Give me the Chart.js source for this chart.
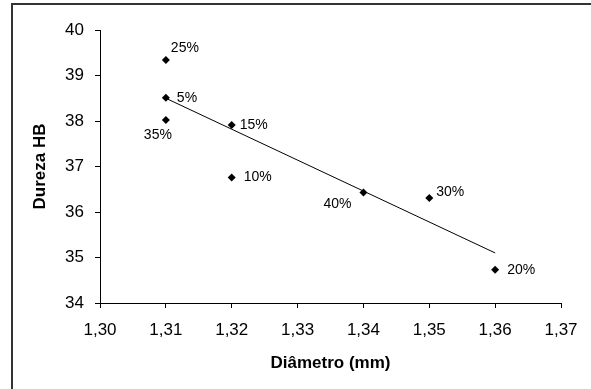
<!DOCTYPE html>
<html>
<head>
<meta charset="utf-8">
<script src="https://cdn.jsdelivr.net/npm/chart.js@4.4.1/dist/chart.umd.min.js"></script>
<style>
    html, body { margin: 0; padding: 0; background: #fff; }
    #wrap { width: 591px; height: 389px; }
</style>
</head>
<body>
<div id="wrap"><canvas id="chart" width="591" height="389"></canvas></div>
<script>
//dados
const diametro = [1.31, 1.31, 1.31, 1.32, 1.32, 1.34, 1.35, 1.36];
const dureza = [39.34, 38.51, 38.02, 37.91, 36.76, 36.43, 36.31, 34.73];
const rotulos = ['25%', '5%', '35%', '15%', '10%', '40%', '30%', '20%'];

//linha de tendência (extremos)
const tendenciaX = [1.31, 1.36];
const tendenciaY = [38.5, 35.1];

const FONTE = "'Liberation Sans', Arial, sans-serif";

//posição de cada rótulo em relação ao ponto
const posRotulos = [
    { dx: 5, dy: -12, align: 'left' },
    { dx: 11, dy: 0, align: 'left' },
    { dx: -8, dy: 15, align: 'center' },
    { dx: 8, dy: 0, align: 'left' },
    { dx: 12, dy: 0, align: 'left' },
    { dx: -12, dy: 12, align: 'right' },
    { dx: 7, dy: -6, align: 'left' },
    { dx: 12, dy: 0, align: 'left' }
];

//moldura externa (só topo e esquerda aparecem)
const moldura = {
    id: 'moldura',
    beforeDraw(chart) {
        const ctx = chart.ctx;
        ctx.save();
        ctx.strokeStyle = '#333';
        ctx.lineWidth = 2;
        ctx.strokeRect(12, 4, 700, 500);
        ctx.restore();
    }
};

//rótulos percentuais ao lado dos pontos
const rotulosPontos = {
    id: 'rotulosPontos',
    afterDatasetsDraw(chart) {
        const ctx = chart.ctx;
        const meta = chart.getDatasetMeta(0);
        ctx.save();
        ctx.font = '14px ' + FONTE;
        ctx.fillStyle = '#000';
        ctx.textBaseline = 'middle';
        meta.data.forEach((pt, i) => {
            const p = posRotulos[i];
            ctx.textAlign = p.align;
            ctx.fillText(rotulos[i], pt.x + p.dx, pt.y + p.dy);
        });
        ctx.restore();
    }
};

const ctx = document.getElementById('chart').getContext('2d');

new Chart(ctx, {
    type: 'scatter',
    data: {
        datasets: [
            {
                label: 'Dureza',
                data: diametro.map((x, i) => ({ x: x, y: dureza[i] })),
                backgroundColor: '#000',
                borderColor: '#000',
                borderWidth: 0,
                pointStyle: 'rectRot',
                pointRadius: 4,
                pointHoverRadius: 4
            },
            {
                label: 'Tendência',
                type: 'line',
                data: tendenciaX.map((x, i) => ({ x: x, y: tendenciaY[i] })),
                borderColor: '#000',
                borderWidth: 1,
                pointRadius: 0,
                fill: false
            }
        ]
    },
    options: {
        responsive: false,
        animation: false,
        events: [],
        layout: { padding: { left: 30, top: 30, right: 30, bottom: 15 } },
        scales: {
            x: {
                type: 'linear',
                min: 1.30,
                max: 1.37,
                afterFit: s => { s.height = 71; },
                grid: { drawOnChartArea: false, drawTicks: true, tickLength: 5, color: '#000' },
                border: { color: '#000', width: 1 },
                ticks: {
                    stepSize: 0.01,
                    padding: 12,
                    color: '#000',
                    font: { family: FONTE, size: 17 },
                    maxRotation: 0,
                    callback: v => v.toFixed(2).replace('.', ',')
                },
                title: {
                    display: true,
                    text: 'Diâmetro (mm)',
                    color: '#000',
                    padding: { top: 0, bottom: 0 },
                    font: { family: FONTE, size: 17, weight: 'bold' }
                }
            },
            y: {
                min: 34,
                max: 40,
                afterFit: s => { s.width = 70; },
                grid: { drawOnChartArea: false, drawTicks: true, tickLength: 5, color: '#000' },
                border: { color: '#000', width: 1 },
                ticks: {
                    stepSize: 1,
                    padding: 11,
                    color: '#000',
                    font: { family: FONTE, size: 17 }
                },
                title: {
                    display: true,
                    text: 'Dureza HB',
                    color: '#000',
                    padding: { top: 0, bottom: 0 },
                    font: { family: FONTE, size: 17, weight: 'bold' }
                }
            }
        },
        plugins: {
            legend: { display: false },
            tooltip: { enabled: false }
        }
    },
    plugins: [moldura, rotulosPontos]
});
</script>
</body>
</html>
